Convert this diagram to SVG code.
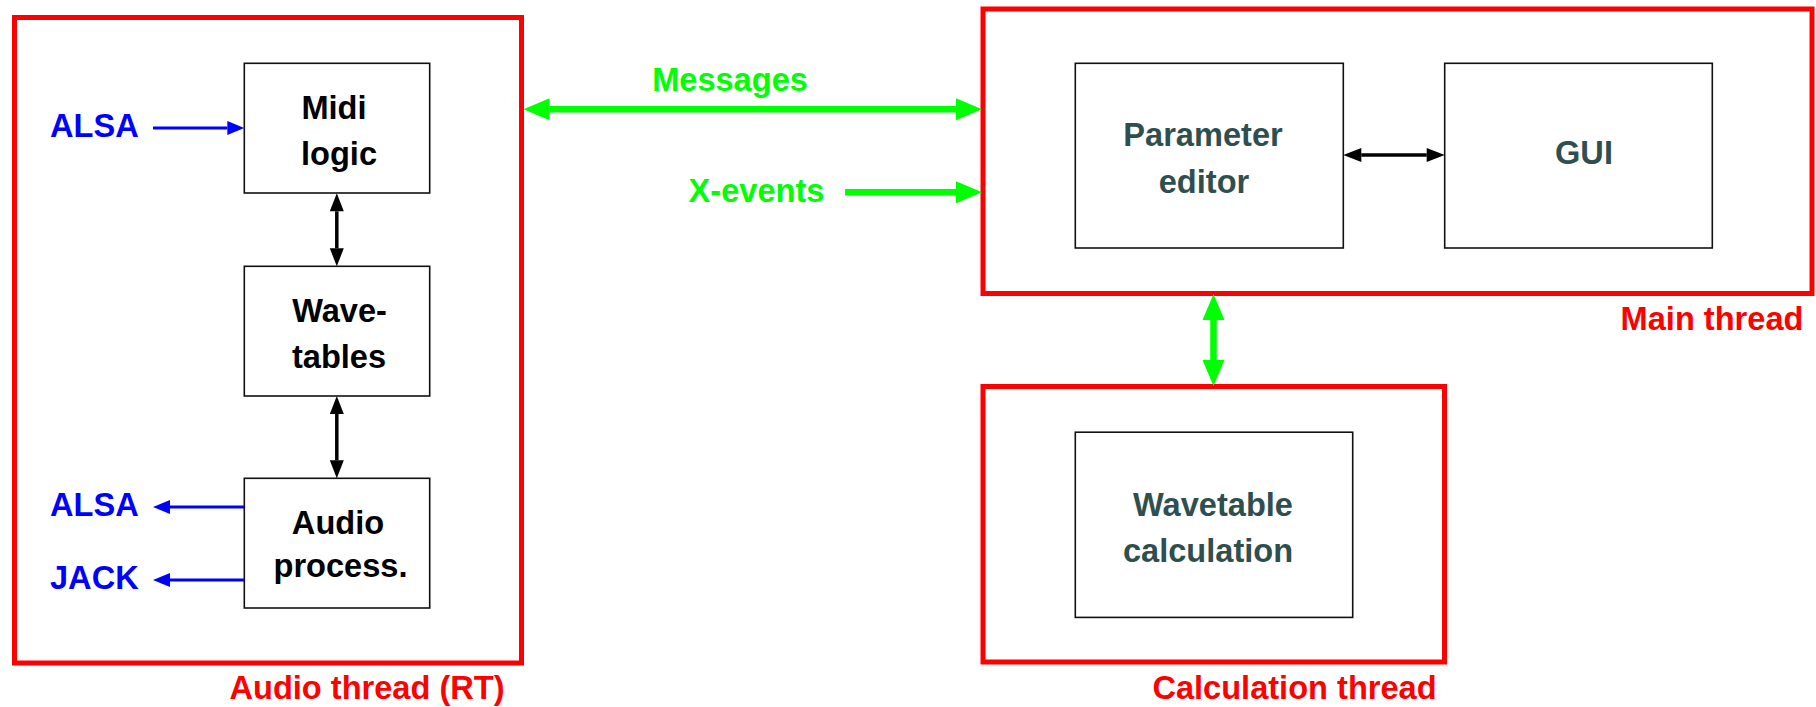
<svg xmlns="http://www.w3.org/2000/svg" width="1816" height="707" viewBox="0 0 1816 707">
<style>
  text { font-family: "Liberation Sans", Arial, sans-serif; font-weight: bold; font-size: 32.6px; }
  .thread { fill: none; stroke: #ff0000; stroke-width: 5; }
  .node { fill: #ffffff; stroke: #111111; stroke-width: 1.6; }
  .red { fill: #ff0000; }
  .blue { fill: #0000ff; }
  .green { fill: #00ff00; }
  .blk { fill: #000000; text-anchor: middle; }
  .slate { fill: #2f4f4f; text-anchor: middle; }
  .mid { text-anchor: middle; }
  .cg { stroke: #00ff00; stroke-width: 6.5; fill: none; }
  .cb { stroke: #000000; stroke-width: 3.5; fill: none; }
  .cu { stroke: #0000ff; stroke-width: 3; fill: none; }
</style>
<defs>
  <marker id="ag" markerUnits="userSpaceOnUse" markerWidth="26" markerHeight="22" viewBox="0 0 26 22" refX="0" refY="11" orient="auto-start-reverse" overflow="visible">
    <path d="M0,0 L26,11 L0,22 Z" fill="#00ff00"/>
  </marker>
  <marker id="ak" markerUnits="userSpaceOnUse" markerWidth="18" markerHeight="14" viewBox="0 0 18 14" refX="0" refY="7" orient="auto-start-reverse" overflow="visible">
    <path d="M0,0 L18,7 L0,14 Z" fill="#000000"/>
  </marker>
  <marker id="au" markerUnits="userSpaceOnUse" markerWidth="17" markerHeight="14" viewBox="0 0 17 14" refX="0" refY="7" orient="auto-start-reverse" overflow="visible">
    <path d="M0,0 L17,7 L0,14 Z" fill="#0000ff"/>
  </marker>
</defs>

<g id="audio-thread">
  <rect class="thread" x="14.5" y="17.5" width="507" height="645.5"/>
  <text class="red mid" x="367" y="699">Audio thread (RT)</text>
</g>
<g id="main-thread">
  <rect class="thread" x="983" y="9" width="829" height="284.5"/>
  <text class="red mid" x="1712" y="330">Main thread</text>
</g>
<g id="calc-thread">
  <rect class="thread" x="983" y="386.5" width="461.5" height="275.5"/>
  <text class="red mid" x="1294.5" y="699">Calculation thread</text>
</g>

<g id="midi-logic">
  <rect class="node" x="244.3" y="63.3" width="185.4" height="129.7"/>
  <text class="blk" x="334" y="119">Midi</text>
  <text class="blk" x="339" y="165">logic</text>
</g>
<g id="wavetables">
  <rect class="node" x="244.3" y="266.3" width="185.4" height="129.7"/>
  <text class="blk" x="339.5" y="322">Wave-</text>
  <text class="blk" x="339" y="368">tables</text>
</g>
<g id="audio-process">
  <rect class="node" x="244.3" y="478.3" width="185.4" height="129.7"/>
  <text class="blk" x="338" y="534">Audio</text>
  <text class="blk" x="340.5" y="577">process.</text>
</g>
<g id="parameter-editor">
  <rect class="node" x="1075.3" y="63.3" width="268" height="184.7"/>
  <text class="slate" x="1203" y="146">Parameter</text>
  <text class="slate" x="1204" y="193">editor</text>
</g>
<g id="gui">
  <rect class="node" x="1444.7" y="63.3" width="267.6" height="184.7"/>
  <text class="slate" x="1584" y="164">GUI</text>
</g>
<g id="wavetable-calculation">
  <rect class="node" x="1075.3" y="432.2" width="277.4" height="185.2"/>
  <text class="slate" x="1213" y="515.5">Wavetable</text>
  <text class="slate" x="1208" y="561.7">calculation</text>
</g>

<g id="io-labels">
  <text class="blue" x="50" y="137">ALSA</text>
  <text class="blue" x="50" y="516">ALSA</text>
  <text class="blue" x="50" y="589">JACK</text>
  <text class="green mid" x="730" y="91">Messages</text>
  <text class="green mid" x="756.5" y="202">X-events</text>
</g>

<g id="connectors">
  <line class="cu" x1="153" y1="128" x2="227.3" y2="128" marker-end="url(#au)"/>
  <line class="cu" x1="244.3" y1="507" x2="170" y2="507" marker-end="url(#au)"/>
  <line class="cu" x1="244.3" y1="580" x2="170" y2="580" marker-end="url(#au)"/>
  <line class="cb" x1="336.8" y1="211.3" x2="336.8" y2="248.3" marker-start="url(#ak)" marker-end="url(#ak)"/>
  <line class="cb" x1="336.8" y1="414" x2="336.8" y2="460.3" marker-start="url(#ak)" marker-end="url(#ak)"/>
  <line class="cb" x1="1361.3" y1="155" x2="1426.7" y2="155" marker-start="url(#ak)" marker-end="url(#ak)"/>
  <line class="cg" x1="549.5" y1="109.3" x2="956" y2="109.3" marker-start="url(#ag)" marker-end="url(#ag)"/>
  <line class="cg" x1="845" y1="192.3" x2="956" y2="192.3" marker-end="url(#ag)"/>
  <line class="cg" x1="1213.5" y1="320" x2="1213.5" y2="360" marker-start="url(#ag)" marker-end="url(#ag)"/>
</g>
</svg>
